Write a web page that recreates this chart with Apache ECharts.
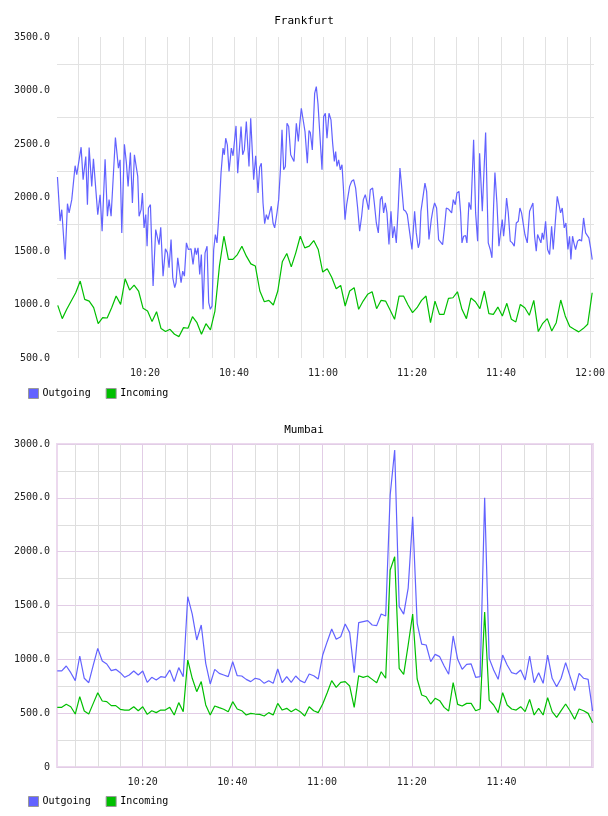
<!DOCTYPE html>
<html>
<head>
<meta charset="utf-8">
<script src="https://cdn.jsdelivr.net/npm/echarts@6/dist/echarts.min.js"></script>
<style>
html, body { margin: 0; padding: 0; background: #fff; }
#chart { width: 608px; height: 816px; }
</style>
</head>
<body>
<div id="chart"></div>
<script>
// all x values are minutes after 10:00
const seriesNames = ['Outgoing', 'Incoming']
const titles = ['Frankfurt', 'Mumbai']

// Frankfurt outgoing: [minute, value]
const frankOutgoing = [
  [0.3,2191],[0.9,1780],[1.27,1886],[1.65,1880],[2.02,1420],[2.55,1942],[2.92,1856],[3.52,1980],[4.27,2297],[4.64,2213],
  [5.17,2352],[5.62,2470],[6.07,2166],[6.67,2383],[7.04,1933],[7.42,2467],[8.01,2104],[8.39,2362],[8.76,2352],[9.36,1840],
  [9.89,2026],[10.34,1685],[11.01,2358],[11.53,1825],[11.91,1980],[12.36,1825],[12.73,1809],[13.33,2560],[14.01,2275],[14.38,2352],
  [14.76,1669],[15.05,1663],[15.35,2498],[15.8,2321],[16.18,2104],[16.7,2421],[17.15,1949],[17.6,2399],[18.35,2197],[18.65,1825],
  [19.1,1886],[19.4,2042],[19.77,1716],[20.15,1840],[20.45,1545],[20.75,1902],[21.2,1933],[21.8,1172],[22.39,1700],[22.77,1706],
  [23.14,1560],[23.52,1722],[24.04,1265],[24.57,1520],[25.02,1483],[25.39,1343],[25.84,1607],[26.22,1250],[26.66,1157],[26.96,1203],
  [27.34,1436],[27.71,1420],[28.09,1203],[28.46,1312],[28.84,1265],[29.29,1576],[29.73,1514],[30.33,1520],[30.78,1374],[31.23,1530],
  [31.53,1467],[31.9,1530],[32.28,1281],[32.65,1467],[33.03,955],[33.48,1483],[33.93,1545],[34.3,1017],[34.67,955],[35.05,986],
  [35.42,1514],[35.8,1654],[36.17,1576],[36.62,1856],[37.07,2228],[37.52,2461],[37.82,2399],[38.12,2554],[38.49,2492],[38.87,2244],
  [39.39,2461],[39.77,2390],[40.07,2390],[40.44,2669],[40.82,2228],[41.12,2213],[41.57,2663],[41.94,2399],[42.31,2445],[42.76,2710],
  [43.36,2290],[43.74,2741],[44.41,2166],[44.86,2390],[45.39,2042],[45.76,2284],[46.13,2321],[46.51,1949],[46.88,1756],[47.26,1840],
  [47.63,1793],[48.01,1862],[48.38,1918],[48.76,1762],[49.13,1716],[49.65,1856],[50.03,1980],[50.4,2244],[50.78,2632],[51.15,2259],
  [51.53,2290],[51.9,2694],[52.28,2663],[52.73,2399],[53.1,2414],[53.47,2337],[54.0,2694],[54.45,2523],[54.75,2679],[55.12,2834],
  [55.5,2849],[55.95,2616],[56.47,2321],[56.85,2626],[57.14,2607],[57.59,2445],[58.12,2974],[58.49,3036],[58.87,2874],[59.24,2880],
  [59.77,2259],[60.14,2756],[60.52,2787],[60.89,2554],[61.34,2787],
  [61.79,2725],[62.16,2508],[62.54,2337],[62.84,2430],[63.14,2290],[63.51,2352],[63.89,2259],[64.26,2306],[64.56,2104],[64.94,1793],
  [65.31,1933],[65.68,1918],[65.98,2104],[66.43,2151],[66.88,2166],[67.33,2088],[67.78,1902],[68.23,1685],[68.68,1825],[69.06,1980],
  [69.5,2026],[69.88,2042],[70.25,1886],[70.63,2073],[71.15,2088],[71.53,1949],[71.98,1762],[72.43,1669],[72.88,1980],[73.25,2011],
  [73.62,1856],[74.0,1949],[74.37,1856],[74.82,1560],[75.27,1871],[75.65,1623],[76.02,1731],[76.47,1576],[76.92,1918],[77.29,2275],
  [77.67,2104],[78.12,1886],[78.57,1871],[78.94,1840],[79.32,1840],[79.69,1607],[79.99,1514],[80.59,1871],[80.96,1669],[81.41,1530],
  [81.71,1576],[82.01,1871],[82.39,1856],[82.91,2135],[83.29,2057],[83.81,1607],[84.33,1793],[84.71,1886],[85.08,1949],[85.53,1902],
  [85.98,1607],[86.36,1623],[86.88,1560],[87.33,1731],[87.71,1902],[88.16,1893],[88.53,1902],[88.91,1856],[89.28,1980],[89.73,1933],
  [90.1,2042],[90.55,2057],[90.93,1856],[91.23,1576],[91.6,1638],[92.05,1644],[92.35,1576],
  [92.8,1955],[93.25,1886],[93.85,2539],[94.3,1856],[94.75,1592],[95.2,2414],[95.8,1871],[96.55,2607],[97.14,1576],[97.59,1514],
  [97.97,1436],[98.34,1918],[98.64,2234],[99.09,1949],[99.54,1545],[99.99,1700],[100.29,1793],[100.59,1638],[100.89,1762],[101.26,1995],
  [101.64,1856],[102.09,1592],[102.54,1576],[102.99,1545],[103.44,1762],[103.89,1778],[104.26,1902],[104.63,1856],[105.01,1856],[105.38,1654],
  [105.91,1576],[106.43,1871],[106.81,1886],[107.18,1949],[107.56,1638],[107.93,1498],[108.23,1654],[108.6,1663],[108.98,1576],[109.28,1669],
  [109.58,1607],[110.03,1778],[110.48,1514],[110.93,1467],[111.38,1731],[111.75,1514],[112.12,1514],[112.65,2011],[113.02,1995],[113.4,1856],
  [113.77,1902],[114.22,1716],[114.6,1762],[115.05,1514],[115.42,1638],[115.72,1420],[116.09,1638],[116.39,1576],[116.77,1514],[117.22,1592],
  [117.67,1607],[118.12,1592],[118.57,1809],[119.02,1669],[119.39,1669],[119.76,1623],[120.14,1530],[120.51,1420]
]

// Frankfurt incoming, one sample per ~minute
const frankInStart = 0.37
const frankInStep = 1.0095
const frankIncoming = [
  992, 868, 955, 1032, 1110, 1219, 1048, 1032, 970, 821, 877, 874, 970, 1079, 1001, 1240, 1135, 1181, 1126, 964,
  939, 840, 933, 775, 747, 768, 722, 700, 784, 778, 886,
  830, 722, 821, 762, 939, 1359, 1638, 1421, 1421, 1467, 1545, 1452, 1380, 1359, 1126, 1026, 1039, 995, 1126,
  1399, 1477, 1352, 1483, 1638, 1529, 1545, 1598, 1514, 1303, 1334, 1255,
  1147, 1178, 986, 1126, 1157, 955, 1032, 1095, 1119, 961, 1039, 1032, 949, 862, 1079, 1079, 995, 924, 970,
  1039, 1079, 830, 1032, 908, 908, 1057, 1063, 1119, 955, 868,
  1060, 1026, 961, 1126, 914, 908, 976, 893, 1011, 862, 837, 1001, 970, 899, 1039, 747, 824, 868, 753, 830,
  1042, 893, 794, 768, 744, 775, 815, 1110
]

// Mumbai, one sample per minute
const mumbaiStart = 0.96
const mumbaiStep = 1.003
const mumbaiOutgoing = [
  892, 892, 938, 876, 802, 1031, 824, 783, 947, 1102, 985, 957, 895, 907, 876, 833, 855, 892, 855, 892,
  786, 833, 808, 839, 833, 901, 793, 923, 839, 1582, 1420, 1180, 1319, 963, 771, 907, 870, 855, 839, 978,
  848, 845, 814, 793, 824, 814, 777, 802, 777, 910, 783, 839, 786, 845, 802, 783, 864, 848, 817, 1040,
  1164, 1282, 1186, 1210, 1328, 1248, 876, 1341, 1350, 1359, 1319, 1313, 1421, 1402, 2526, 2944, 1490, 1420, 1662, 2325,
  1334, 1142, 1133, 978, 1046, 1025, 938, 861, 1217, 1000, 907, 954, 957, 833, 839, 2501, 1009, 901, 814, 1040,
  947, 876, 864, 901, 808, 1031, 783, 876, 777, 1040, 824, 746, 824, 969, 839, 709, 870, 824, 814, 520
]
const mumbaiIncoming = [
  554, 554, 582, 560, 492, 653, 520, 492, 591, 690, 613, 607, 570, 570, 536, 529, 529, 560, 523, 560,
  489, 523, 505, 529, 529, 554, 483, 598, 514, 994, 824, 700, 793, 576, 483, 567, 551, 536, 514, 607,
  539, 523, 483, 498, 492, 489, 474, 505, 483, 591, 529, 545, 514, 539, 514, 474, 560, 523, 505, 585,
  690, 802, 740, 786, 793, 752, 554, 848, 833, 845, 814, 783, 885, 824, 1830, 1953, 916, 861, 1133, 1421,
  817, 669, 653, 585, 638, 616, 554, 520, 783, 582, 567, 591, 591, 523, 539, 1440, 622, 576, 505, 690,
  576, 539, 529, 560, 514, 628, 483, 545, 483, 644, 514, 461, 523, 585, 520, 443, 539, 523, 498, 412
]

const frankRange = [0.2, 120.9]
const mumbaiRange = [0.9, 120.4]

const colors = ['#6262ff', '#00bf00']
const mono = 'DejaVu Sans Mono'

function withTimes (vals, start, step) {
  return vals.map((v, i) => [start + i * step, v])
}

function timeLabel (v) {
  if (Math.abs(v - Math.round(v)) > 0.01) return ''
  const m = Math.round(v)
  if (m % 20 !== 0 || m === 0) return ''
  const h = 10 + Math.floor(m / 60)
  const mm = m % 60
  return h + ':' + (mm < 10 ? '0' + mm : mm)
}

const chart = echarts.init(document.getElementById('chart'))

const lineSeries = (name, data, idx, color) => ({
  name,
  type: 'line',
  xAxisIndex: idx.x,
  yAxisIndex: idx.y,
  data,
  showSymbol: false,
  symbol: 'none',
  clip: false,
  lineStyle: { width: 1.2, color },
  itemStyle: { color },
  animation: false
})

const legendBase = {
  data: seriesNames, left: 23, icon: 'rect', itemWidth: 10, itemHeight: 10, itemGap: 15,
  itemStyle: { borderColor: '#999', borderWidth: 1 },
  textStyle: { fontFamily: mono, fontSize: 10, color: '#000', padding: [0, 0, 0, -1] }
}

chart.setOption({
  animation: false,
  backgroundColor: '#fff',
  textStyle: { fontFamily: mono },
  title: [
    { text: titles[0], left: 'center', top: 11, textStyle: { fontFamily: mono, fontSize: 11, fontWeight: 'normal', color: '#000' } },
    { text: titles[1], left: 'center', top: 420, textStyle: { fontFamily: mono, fontSize: 11, fontWeight: 'normal', color: '#000' } }
  ],
  legend: [
    Object.assign({}, legendBase, { top: 383 }),
    Object.assign({}, legendBase, { top: 791 })
  ],
  grid: [
    { left: 57, top: 37, width: 537, height: 321 },
    { left: 57, top: 444, width: 536, height: 323, show: true, borderColor: '#ecd9ee', borderWidth: 2, backgroundColor: 'transparent' }
  ],
  xAxis: [
    {
      type: 'value', gridIndex: 0, min: frankRange[0], max: frankRange[1], minInterval: 5, maxInterval: 5, splitNumber: 24,
      axisLine: { show: false }, axisTick: { show: false },
      axisLabel: { formatter: timeLabel, fontFamily: mono, fontSize: 10, color: '#222', margin: 10, showMinLabel: true, showMaxLabel: true },
      splitLine: { show: true, showMinLine: false, showMaxLine: false, lineStyle: { color: '#e2e2e2', width: 1 } }
    },
    {
      type: 'value', gridIndex: 1, min: mumbaiRange[0], max: mumbaiRange[1], minInterval: 5, maxInterval: 5, splitNumber: 24,
      position: 'top',
      axisLine: { show: false }, axisTick: { show: false }, axisLabel: { show: false },
      splitLine: { show: true, showMinLine: false, showMaxLine: false, lineStyle: { color: '#dedede', width: 1 } }
    },
    {
      type: 'value', gridIndex: 1, min: mumbaiRange[0], max: mumbaiRange[1], minInterval: 20, maxInterval: 20, splitNumber: 6,
      position: 'bottom',
      axisLine: { show: false }, axisTick: { show: false },
      axisLabel: { formatter: v => (Math.round(v) === 120 ? '' : timeLabel(v)), fontFamily: mono, fontSize: 10, color: '#222', margin: 10 },
      splitLine: { show: true, showMinLine: false, showMaxLine: false, lineStyle: { color: '#e2cde6', width: 1 } }
    }
  ],
  yAxis: [
    {
      type: 'value', gridIndex: 0, min: 500, max: 3500, interval: 500,
      axisLine: { show: false }, axisTick: { show: false },
      axisLabel: { formatter: v => v.toFixed(1), fontFamily: mono, fontSize: 10, color: '#222', margin: 7 },
      splitLine: { show: false },
      minorTick: { show: false, splitNumber: 2 },
      minorSplitLine: { show: true, lineStyle: { color: '#e2e2e2', width: 1 } }
    },
    {
      type: 'value', gridIndex: 1, min: 0, max: 3000, interval: 500,
      axisLine: { show: false }, axisTick: { show: false },
      axisLabel: { formatter: v => (v === 0 ? '0' : v.toFixed(1)), fontFamily: mono, fontSize: 10, color: '#222', margin: 7 },
      splitLine: { show: true, lineStyle: { color: '#e2cde6', width: 1 } },
      minorTick: { show: false, splitNumber: 2 },
      minorSplitLine: { show: true, lineStyle: { color: '#dedede', width: 1 } }
    }
  ],
  series: [
    lineSeries(seriesNames[0], frankOutgoing, { x: 0, y: 0 }, colors[0]),
    lineSeries(seriesNames[1], withTimes(frankIncoming, frankInStart, frankInStep), { x: 0, y: 0 }, colors[1]),
    lineSeries(seriesNames[0], withTimes(mumbaiOutgoing, mumbaiStart, mumbaiStep), { x: 1, y: 1 }, colors[0]),
    lineSeries(seriesNames[1], withTimes(mumbaiIncoming, mumbaiStart, mumbaiStep), { x: 1, y: 1 }, colors[1])
  ]
})
</script>
</body>
</html>
